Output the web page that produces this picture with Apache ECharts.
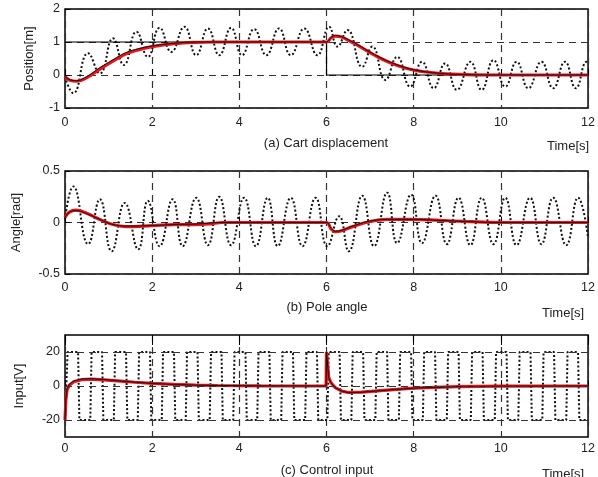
<!DOCTYPE html>
<html><head><meta charset="utf-8">
<script src="https://cdn.jsdelivr.net/npm/echarts@6/dist/echarts.min.js"></script>
<style>html,body{margin:0;padding:0;background:#fff}#c{width:598px;height:477px}</style>
</head><body><div id="c"></div>
<script>
// ---- data ----
var xTicks = [0, 2, 4, 6, 8, 10, 12];
var cartTicks = [-1, 0, 1, 2];
var angleTicks = [-0.5, 0, 0.5];
var inputTicks = [-20, 0, 20];

var cartRef = [[0,1],[6,1],[6,0],[12,0]];
var cartRed = [[0,-0.05],[0.1,-0.15],[0.27,-0.19],[0.5,-0.08],[0.8,0.18],[1.1,0.42],[1.4,0.64],[1.7,0.77],[2.0,0.86],[2.5,0.95],[3.0,0.99],[3.5,1.0],[6.0,1.0],[6.1,1.12],[6.2,1.18],[6.35,1.15],[6.5,1.05],[6.7,0.91],[7.1,0.6],[7.5,0.35],[8.0,0.15],[8.6,0.05],[9.2,0.01],[10,0],[12,0]];
var cartBlack = [[0,-0.05],[0.1,-0.14],[0.27,-0.17],[0.5,-0.05],[0.8,0.22],[1.1,0.46],[1.4,0.68],[1.7,0.8],[2.0,0.88],[2.5,0.96],[3.0,1.0],[6.0,1.0],[6.1,1.13],[6.2,1.2],[6.35,1.16],[6.5,1.07],[6.7,0.93],[7.1,0.62],[7.5,0.37],[8.0,0.16],[8.6,0.05],[9.2,0.01],[10,0],[12,0]];
var cartDotted = [[0,-0.05],[0.19,-0.55],[0.53,0.66],[0.8,0.05],[1.1,1.11],[1.35,0.3],[1.64,1.31],[1.9,0.55],[2.17,1.43],[2.44,0.7],[2.74,1.46],[3.01,0.6],[3.28,1.41],[3.54,0.6],[3.81,1.43],[4.06,0.6],[4.34,1.39],[4.62,0.6],[4.91,1.41],[5.18,0.6],[5.49,1.41],[5.79,0.6],[6.06,1.46],[6.25,0.86],[6.48,1.36],[6.82,0.25],[7.05,0.86],[7.35,-0.15],[7.62,0.55],[7.92,-0.35],[8.19,0.4],[8.46,-0.4],[8.72,0.35],[8.99,-0.45],[9.3,0.4],[9.56,-0.45],[9.83,0.45],[10.1,-0.35],[10.36,0.4],[10.63,-0.4],[10.93,0.4],[11.2,-0.4],[11.47,0.4],[11.72,-0.4],[11.97,0.4],[12,0.38]];

var angleRed = [[0,0.05],[0.1,0.1],[0.25,0.12],[0.5,0.09],[0.8,0.03],[1.1,-0.02],[1.4,-0.04],[2.0,-0.03],[2.5,-0.02],[3.0,-0.02],[3.4,-0.01],[3.6,0],[6.0,0],[6.1,-0.06],[6.2,-0.09],[6.35,-0.08],[6.6,-0.04],[7.0,0.01],[7.4,0.03],[8.0,0.03],[8.6,0.02],[9.2,0.01],[10,0],[12,0]];
var angleBlack = [[0,0.05],[0.1,0.1],[0.25,0.115],[0.5,0.085],[0.8,0.03],[1.1,-0.02],[1.4,-0.035],[2.0,-0.03],[2.5,-0.02],[3.0,-0.015],[3.6,0],[6.0,0],[6.1,-0.055],[6.2,-0.085],[6.35,-0.075],[6.6,-0.035],[7.0,0.015],[7.4,0.03],[8.0,0.03],[8.6,0.02],[9.2,0.01],[10,0],[12,0]];
var angleDotted = [[0,0.03],[0.19,0.35],[0.53,-0.21],[0.8,0.225],[1.07,-0.28],[1.37,0.19],[1.68,-0.26],[1.9,0.21],[2.17,-0.23],[2.47,0.225],[2.7,-0.23],[3.01,0.24],[3.28,-0.22],[3.54,0.25],[3.81,-0.22],[4.11,0.24],[4.38,-0.23],[4.65,0.24],[4.88,-0.23],[5.18,0.24],[5.45,-0.23],[5.75,0.24],[6.02,-0.23],[6.29,0.06],[6.51,-0.28],[6.82,0.26],[7.09,-0.23],[7.39,0.29],[7.62,-0.2],[7.94,0.27],[8.19,-0.2],[8.5,0.26],[8.76,-0.21],[9.03,0.24],[9.3,-0.22],[9.56,0.24],[9.83,-0.21],[10.1,0.24],[10.36,-0.22],[10.67,0.24],[10.93,-0.21],[11.2,0.24],[11.5,-0.22],[11.77,0.24],[12,-0.15]];

var inputRed = [[0,-20],[0.02,-8],[0.05,-2],[0.1,0.5],[0.2,2.5],[0.4,3.8],[0.6,4.0],[0.9,3.6],[1.2,3.0],[1.6,2.2],[2.0,1.5],[2.5,0.9],[3.0,0.5],[3.5,0.3],[4.5,0.1],[5.99,0],[6.0,20],[6.05,5],[6.1,2],[6.2,-1],[6.35,-3],[6.5,-3.8],[6.8,-3.6],[7.1,-3.0],[7.6,-2.0],[8.0,-1.3],[8.5,-0.8],[9.0,-0.4],[10,-0.1],[12,0]];
var inputBlack = [[0,-20],[0.02,-7],[0.05,-1.5],[0.1,1],[0.2,3],[0.4,4.2],[0.6,4.3],[0.9,3.8],[1.2,3.1],[1.6,2.3],[2.0,1.5],[2.5,0.9],[3.0,0.5],[3.5,0.3],[4.5,0.1],[5.99,0],[6.0,20],[6.05,5],[6.1,2],[6.2,-1],[6.35,-3],[6.5,-3.9],[6.8,-3.7],[7.1,-3.0],[7.6,-2.0],[8.0,-1.3],[8.5,-0.8],[9.0,-0.4],[10,-0.1],[12,0]];
// switching instants of the saturated (±20 V) dotted control input
var inputSwitch = [0.03,0.30,0.58,0.85,1.12,1.40,1.67,1.95,2.22,2.50,2.77,3.04,3.32,3.59,3.86,4.14,4.41,4.69,4.96,5.23,5.51,5.78,6.02,6.30,6.57,6.84,7.12,7.39,7.66,7.94,8.21,8.49,8.76,9.03,9.31,9.58,9.86,10.13,10.40,10.68,10.95,11.22,11.50,11.77];
var inputLevel = 20;

// ---- build the square wave polyline from switching instants ----
var inputDotted = [[0, -inputLevel]];
(function(){
  var s = -inputLevel;
  inputSwitch.forEach(function(t){
    inputDotted.push([t, s]);
    s = -s;
    inputDotted.push([t + 0.03, s]);
  });
  inputDotted.push([12, s]);
})();

var FONT = 'Liberation Sans, Arial, sans-serif';
var TXT = '#222';
var gridDash = {color:'#333', width:1.2, type:[7,5]};
var DOTS = [2, 2.2];

function xAx(i, margin, showLabel) {
  return {
    type:'value', gridIndex:i, min:0, max:12, interval:2,
    axisLine:{show:false},
    axisTick:{show:true, inside:true, length:6, lineStyle:{color:'#000'}},
    axisLabel:{show:showLabel!==false, margin:margin, fontSize:12.5, color:TXT, fontFamily:FONT},
    splitLine:{show:true, lineStyle:gridDash}
  };
}
function yAx(i, o) {
  var base = {
    type:'value', gridIndex:i,
    axisLine:{show:false},
    axisTick:{show:true, inside:true, length:5, lineStyle:{color:'#000'}},
    axisLabel:{margin:5, fontSize:12.5, color:TXT, fontFamily:FONT},
    nameLocation:'middle', nameRotate:90,
    nameTextStyle:{fontSize:13, color:TXT, fontFamily:FONT},
    splitLine:{show:true, lineStyle:gridDash}
  };
  for (var k in o) base[k] = o[k];
  return base;
}
function red(xi, d, smooth) {
  return {type:'line', xAxisIndex:xi, yAxisIndex:xi, data:d, showSymbol:false, smooth:smooth?0.4:false,
    lineStyle:{color:'#e8141a', width:3.2}, z:3, silent:true};
}
function blk(xi, d, smooth) {
  return {type:'line', xAxisIndex:xi, yAxisIndex:xi, data:d, showSymbol:false, smooth:smooth?0.4:false,
    lineStyle:{color:'#111', width:1}, z:4, silent:true};
}
function dot(xi, d, smooth) {
  return {type:'line', xAxisIndex:xi, yAxisIndex:xi, data:d, showSymbol:false, smooth:smooth?0.5:false,
    lineStyle:{color:'#111', width:2, type:DOTS}, z:2, silent:true};
}

var chart = echarts.init(document.getElementById('c'), null, {renderer:'canvas'});
chart.setOption({
  animation:false,
  backgroundColor:'#fff',
  grid:[
    {left:65, top:9, width:525, height:99, show:true, borderColor:'#000', borderWidth:1.5},
    {left:65, top:171, width:525, height:103, show:true, borderColor:'#000', borderWidth:1.5},
    {left:65, top:335, width:525, height:102, show:true, borderColor:'#000', borderWidth:1.5}
  ],
  xAxis:[
    xAx(0, 8), xAx(1, 7), xAx(2, 5),
    {type:'value', gridIndex:2, position:'top', min:0, max:12, interval:2,
     axisLine:{show:false}, axisLabel:{show:false}, splitLine:{show:false},
     axisTick:{show:true, inside:true, length:10, lineStyle:{color:'#000'}}}
  ],
  yAxis:[
    yAx(0, {min:-1, max:2, interval:1, name:'Position[m]', nameGap:29}),
    yAx(1, {min:-0.5, max:0.5, interval:0.5, name:'Angle[rad]', nameGap:42,
            axisLabel:{margin:5, fontSize:12.5, color:TXT, fontFamily:FONT,
              formatter:function(v){return v===0?'0':String(v);}}}),
    yAx(2, {min:-30, max:30, interval:10, name:'Input[V]', nameGap:39,
            axisLabel:{margin:5, fontSize:12.5, color:TXT, fontFamily:FONT, customValues:inputTicks},
            axisTick:{show:true, inside:true, length:5, lineStyle:{color:'#000'}, customValues:inputTicks},
            splitLine:{show:false}})
  ],
  series:[
    dot(0, cartDotted, true),
    {type:'line', xAxisIndex:0, yAxisIndex:0, data:cartRef, showSymbol:false,
      lineStyle:{color:'#000', width:1.2}, z:2, silent:true},
    red(0, cartRed, true),
    blk(0, cartBlack, true),

    dot(1, angleDotted, true),
    red(1, angleRed, true),
    blk(1, angleBlack, true),

    {type:'line', xAxisIndex:2, yAxisIndex:2, data:inputDotted, showSymbol:false,
      lineStyle:{color:'#111', width:2, type:DOTS}, z:2, silent:true,
      markLine:{silent:true, symbol:'none', label:{show:false},
        lineStyle:gridDash, data:inputTicks.map(function(v){return {yAxis:v};})}},
    red(2, inputRed, false),
    blk(2, inputBlack, false)
  ],
  graphic:[
    {type:'text', x:326, y:143, style:{text:'(a) Cart displacement', fontSize:13, fontFamily:FONT, fill:TXT, textAlign:'center', textVerticalAlign:'middle'}},
    {type:'text', x:547, y:146, style:{text:'Time[s]', fontSize:13, fontFamily:FONT, fill:TXT, textAlign:'left', textVerticalAlign:'middle'}},
    {type:'text', x:327, y:307, style:{text:'(b) Pole angle', fontSize:13, fontFamily:FONT, fill:TXT, textAlign:'center', textVerticalAlign:'middle'}},
    {type:'text', x:542, y:313, style:{text:'Time[s]', fontSize:13, fontFamily:FONT, fill:TXT, textAlign:'left', textVerticalAlign:'middle'}},
    {type:'text', x:327, y:470, style:{text:'(c) Control input', fontSize:13, fontFamily:FONT, fill:TXT, textAlign:'center', textVerticalAlign:'middle'}},
    {type:'text', x:542, y:468, style:{text:'Time[s]', fontSize:13, fontFamily:FONT, fill:TXT, textAlign:'left', textVerticalAlign:'top'}}
  ]
});
</script>
</body></html>
